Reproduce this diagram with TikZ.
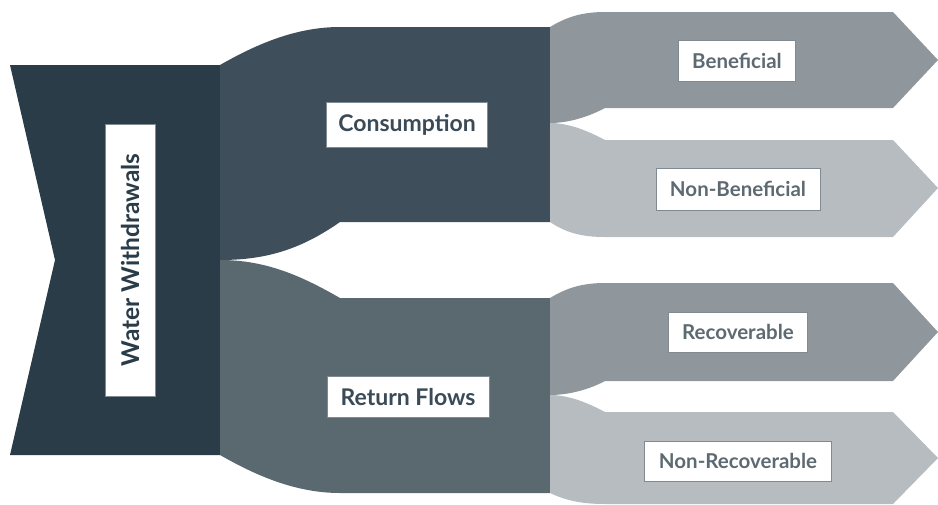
\documentclass[tikz,border=0pt]{standalone}
\usepackage{fontspec}
\setmainfont{Lato}
\definecolor{cW}{HTML}{2A3C48}
\definecolor{cC}{HTML}{3E4E5A}
\definecolor{cR}{HTML}{5A6870}
\definecolor{cA}{HTML}{8F979D}
\definecolor{cB}{HTML}{B7BCC0}
\definecolor{boxgray}{HTML}{7F8A92}
\definecolor{txtdark}{HTML}{3A4A56}
\definecolor{txtgray}{HTML}{5E6A72}
\begin{document}
\begin{tikzpicture}[x=1pt,y=-1pt,
  lbl/.style={draw=boxgray, line width=0.8pt, fill=white, inner sep=0pt,
    font=\fontsize{20.5}{24}\selectfont\bfseries, text=txtdark},
  lblm/.style={lbl, font=\fontsize{23}{27}\selectfont\bfseries},
  lblg/.style={lbl, text=txtgray}]
\useasboundingbox (0,0) rectangle (938,504);
% Water Withdrawals
\fill[cW] (10,65) -- (220,65) -- (220,455) -- (10,455) -- (55,260) -- cycle;
% Consumption
\fill[cC] (220,65) .. controls (255,45) and (295,27) .. (340,27) -- (550,27) -- (550,222) -- (340,222)
  .. controls (300,250) and (265,260) .. (220,260) -- cycle;
% Return Flows
\fill[cR] (220,260) .. controls (265,260) and (300,275) .. (340,298) -- (550,298) -- (550,493) -- (340,493)
  .. controls (295,493) and (255,475) .. (220,455) -- cycle;
% Beneficial
\fill[cA] (550,27) .. controls (565,18) and (580,12) .. (605,12) -- (893,12) -- (938,60) -- (893,108) -- (605,108)
  .. controls (590,116) and (570,123) .. (550,123) -- cycle;
% Non-Beneficial
\fill[cB] (550,123) .. controls (570,123) and (590,132) .. (605,140) -- (893,140) -- (938,188) -- (893,237) -- (605,237)
  .. controls (580,237) and (565,232) .. (550,222) -- cycle;
% Recoverable
\fill[cA] (550,298) .. controls (565,289) and (580,283) .. (605,283) -- (893,283) -- (938,332) -- (893,381) -- (605,381)
  .. controls (590,389) and (570,395) .. (550,395) -- cycle;
% Non-Recoverable
\fill[cB] (550,395) .. controls (570,395) and (590,404) .. (605,412) -- (893,412) -- (938,458) -- (893,504) -- (605,504)
  .. controls (580,504) and (565,500) .. (550,493) -- cycle;
% Labels
\node[lbl, text=cW, font=\fontsize{24.5}{28}\selectfont\bfseries, rotate=90, minimum width=272, minimum height=50] (ww) at (130,260) {Water Withdrawals};
\node[lblm, minimum width=161, minimum height=45] (cons) at (407,125) {Consumption};
\node[lblm, minimum width=162, minimum height=41] (ret) at (408,397) {Return Flows};
\node[lblg, minimum width=117, minimum height=41] (ben) at (737,61) {Beneficial};
\node[lblg, minimum width=164, minimum height=42] (nben) at (738,189) {Non-Beneficial};
\node[lblg, minimum width=139, minimum height=40] (rec) at (738,332) {Recoverable};
\node[lblg, minimum width=187, minimum height=40] (nrec) at (738,461) {Non-Recoverable};
\end{tikzpicture}
\end{document}
